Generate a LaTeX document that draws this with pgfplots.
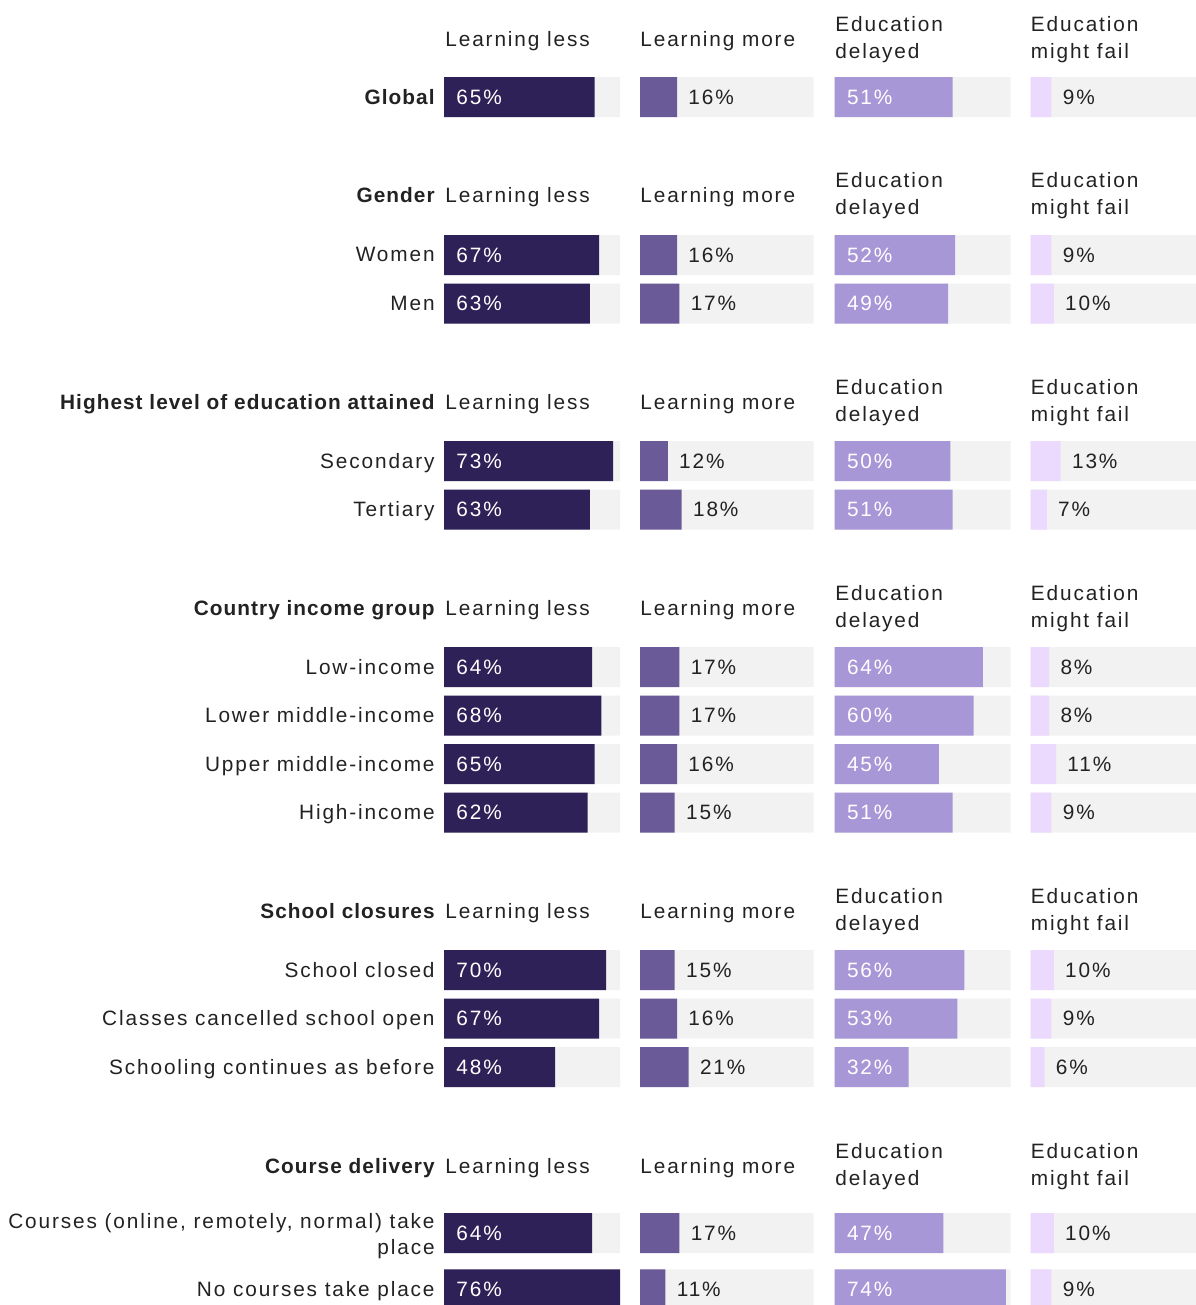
\documentclass[border=0pt]{standalone}
\usepackage{pgfplots}
\pgfplotsset{compat=1.18}
\usepackage{pgfplotstable}
\usepackage{fontspec}
\setmainfont{Liberation Sans}[LetterSpace=9, BoldFeatures={LetterSpace=5}]
\definecolor{cA}{HTML}{2E2157}
\definecolor{cB}{HTML}{6A5A98}
\definecolor{cC}{HTML}{A897D6}
\definecolor{cD}{HTML}{ECD9FE}
\definecolor{track}{HTML}{F2F2F2}
\definecolor{txt}{HTML}{222222}
\newcommand\lab{\fontsize{10.4}{12}\selectfont}

\pgfplotstableread{
y a b c d
97 65 16 51 9
255 67 16 52 9
303.5 63 17 49 10
461 73 12 50 13
509.5 63 18 51 7
667 64 17 64 8
715.5 68 17 60 8
764 65 16 45 11
812.5 62 15 51 9
970 70 15 56 10
1018.5 67 16 53 9
1067 48 21 32 6
1233 64 17 47 10
1289.3 76 11 74 9
}\data

\pgfplotsset{
  panel/.style={hide axis, clip=false, x=1.1579pt, y=0.5pt, xmin=0, xmax=76,
    ymin=0, ymax=1305, y dir=reverse, anchor=north west, scale only axis},
  trk/.style={xbar, bar shift=0pt, bar width=20pt, fill=track, draw=none},
  val/.style={xbar, bar shift=0pt, bar width=20pt, fill=#1, draw=none},
  inlab/.style={no marks, draw=none, point meta=explicit symbolic,
    nodes near coords={\pgfplotspointmeta\%},
    nodes near coords style={anchor=west, inner sep=0pt, xshift=6pt, text=white, font=\lab}},
  outlab/.style={no marks, draw=none, point meta=explicit symbolic,
    nodes near coords={\pgfplotspointmeta\%},
    nodes near coords style={anchor=west, inner sep=0pt, xshift=5.5pt, text=txt, font=\lab}},
}

\begin{document}
\begin{tikzpicture}[x=0.5pt, y=-0.5pt]
% column 1
\begin{axis}[panel, at={(222pt,0pt)}]
\addplot[trk] table[x expr=76, y=y]{\data};
\addplot[val=cA] table[x=a, y=y]{\data};
\addplot[inlab] table[x expr=0, y=y, meta=a]{\data};
\end{axis}
% column 2
\begin{axis}[panel, at={(320pt,0pt)}]
\addplot[trk] table[x expr=75, y=y]{\data};
\addplot[val=cB] table[x=b, y=y]{\data};
\addplot[outlab] table[x=b, y=y, meta=b]{\data};
\end{axis}
% column 3
\begin{axis}[panel, at={(417.3pt,0pt)}]
\addplot[trk] table[x expr=76, y=y]{\data};
\addplot[val=cC] table[x=c, y=y]{\data};
\addplot[inlab] table[x expr=0, y=y, meta=c]{\data};
\end{axis}
% column 4
\begin{axis}[panel, at={(515.3pt,0pt)}]
\addplot[trk] table[x expr=76, y=y]{\data};
\addplot[val=cD] table[x=d, y=y]{\data};
\addplot[outlab] table[x=d, y=y, meta=d]{\data};
\end{axis}

\begin{scope}[every node/.style={inner sep=0pt, text=txt, font=\lab}]
\node[anchor=base east, font=\lab\bfseries] at (435,104.5) {Global};
\foreach \h/\t in {196/Gender, 402/Highest level of education attained, 608/Country income group, 911/School closures, 1166/Course delivery}
  \node[anchor=base east, font=\lab\bfseries] at (435,\h+7) {\t};
\foreach \yy/\t in {255/Women, 303.5/Men, 461/Secondary, 509.5/Tertiary, 667/Low-income, 715.5/Lower middle-income, 764/Upper middle-income, 812.5/High-income, 970/School closed, 1018.5/Classes cancelled school open, 1067/Schooling continues as before, 1289.3/No courses take place}
  \node[anchor=base east] at (435,\yy+7) {\t};
\node[anchor=base east] at (435,1228) {Courses (online, remotely, normal) take};
\node[anchor=base east] at (435,1254) {place};
\foreach \h in {39.7,196,402,608,911,1166}{
  \node[anchor=base west] at (445,\h+7) {Learning less};
  \node[anchor=base west] at (640,\h+7) {Learning more};
  \node[anchor=base west] at (835,\h-8) {Education};
  \node[anchor=base west] at (835,\h+19) {delayed};
  \node[anchor=base west] at (1030.5,\h-8) {Education};
  \node[anchor=base west] at (1030.5,\h+19) {might fail};
}
\end{scope}
\pgfresetboundingbox
\path (0,0) rectangle (1195,1305);
\end{tikzpicture}
\end{document}
